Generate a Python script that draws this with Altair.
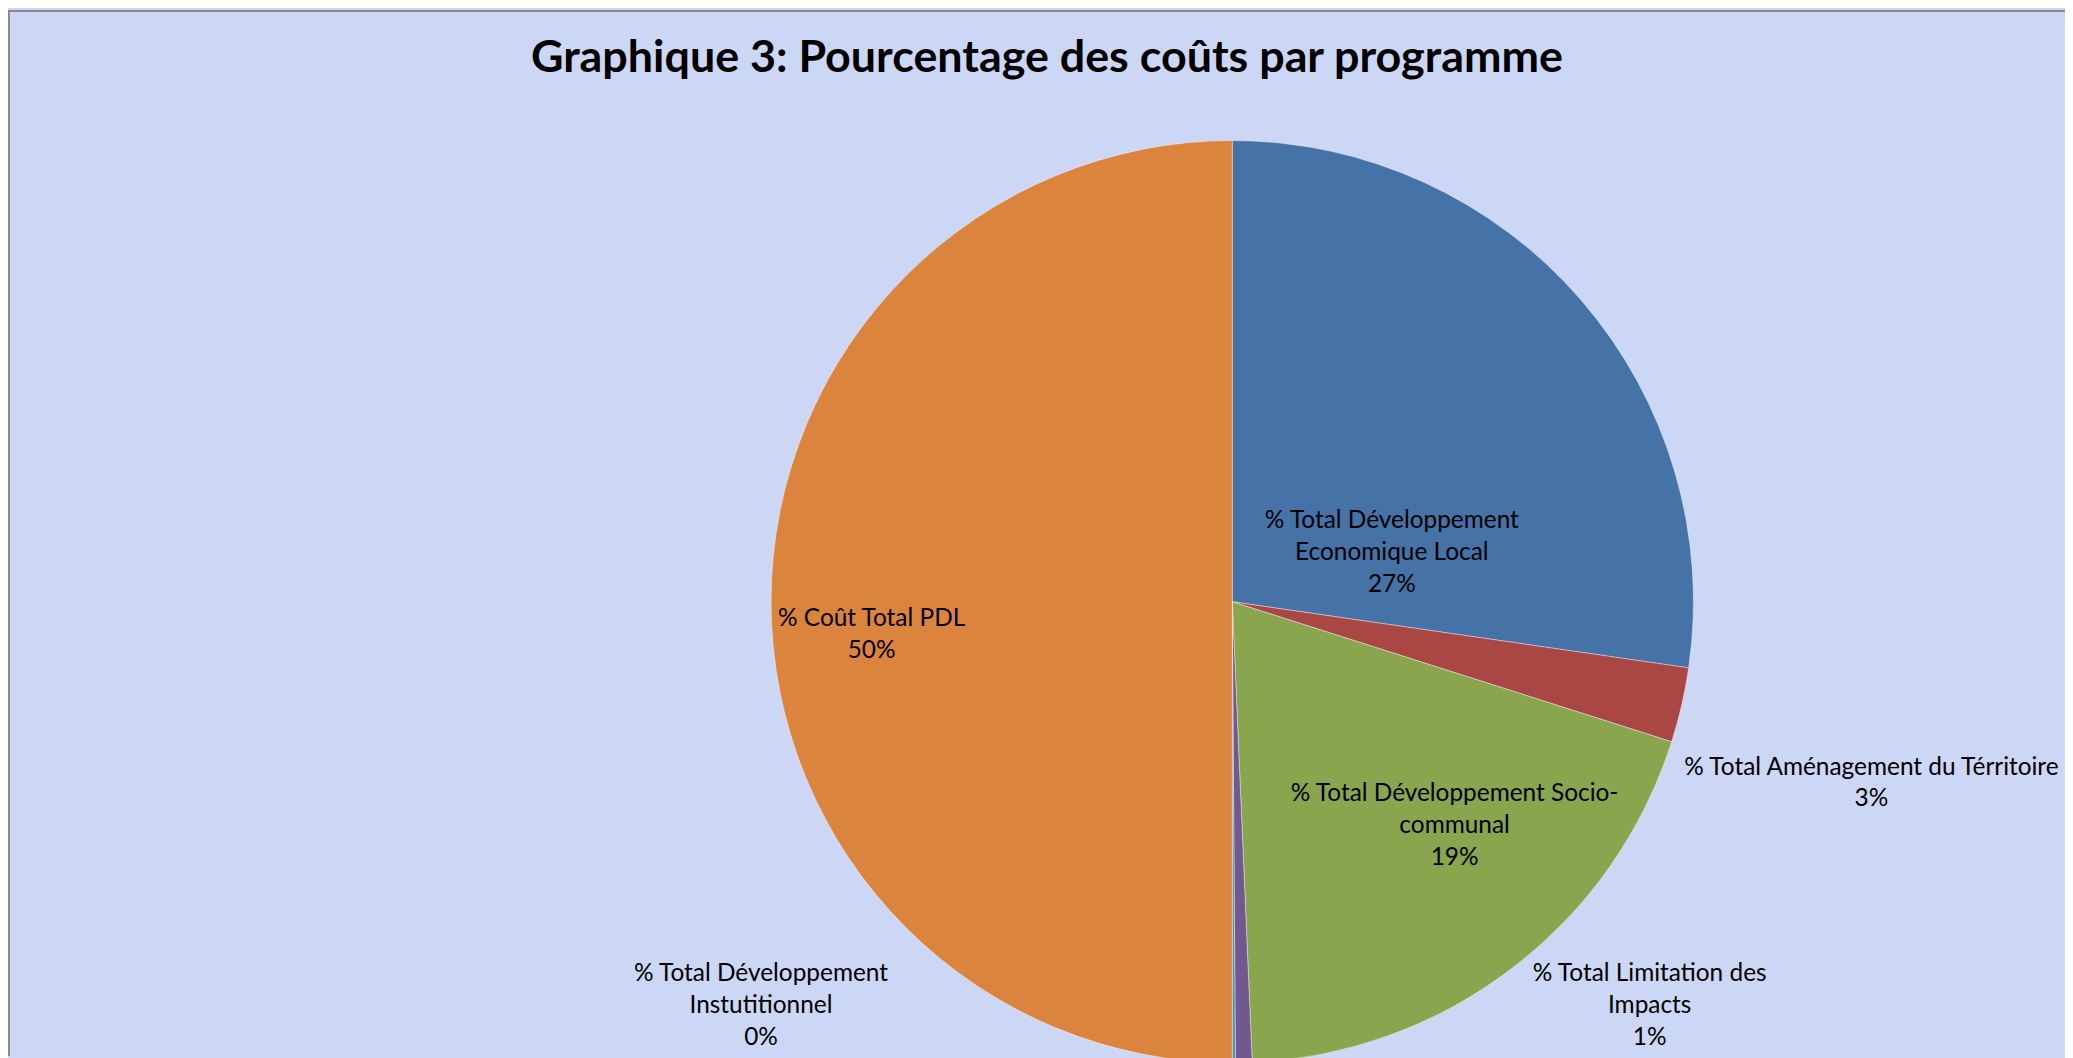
import altair as alt
import pandas as pd

# ---- data ----
categories = [
    "% Total Développement Economique Local",
    "% Total Aménagement du Térritoire",
    "% Total Développement Socio-communal",
    "% Total Limitation des Impacts",
    "% Total Développement Instutitionnel",
    "% Coût Total PDL",
]
label_lines = [
    "% Total Développement|Economique Local",
    "% Total Aménagement du Térritoire",
    "% Total Développement Socio-|communal",
    "% Total Limitation des|Impacts",
    "% Total Développement|Instutitionnel",
    "% Coût Total PDL",
]
values = [27.29, 2.62, 19.40, 0.58, 0.11, 50.00]
colors = ["#4572A7", "#AA4643", "#89A54E", "#71588F", "#4198AF", "#DB843D"]

title_text = "Graphique 3: Pourcentage des coûts par programme"

df = pd.DataFrame({
    "idx": list(range(len(categories))),
    "cat": categories,
    "lines": label_lines,
    "value": values,
})
total = float(sum(values))

# ---- styling / layout ----
FONT = "Lato"
R = 463
W, H = 920, 900
PAD = {"left": 769, "top": 144, "right": 376, "bottom": 6}
theta_scale = alt.Scale(domain=[0, total])
color_scale = alt.Scale(domain=categories, range=colors)

# per-label placement (radius along slice mid-angle, then pixel nudge)
label_style = {
    0: dict(radius=200, dx=9, dy=50),
    1: dict(radius=640, dx=18, dy=23),
    2: dict(radius=300, dx=41, dy=-45),
    3: dict(radius=560, dx=405, dy=-186),
    4: dict(radius=560, dx=-475, dy=-186),
    5: dict(radius=362, dx=0, dy=17),
}

base = alt.Chart(df).transform_stack(
    stack="value", groupby=[], as_=["v0", "v1"],
    sort=[alt.SortField("idx", order="ascending")],
).transform_calculate(
    mid="(datum.v0 + datum.v1) / 2",
    label="datum.lines + '|' + format(datum.value / 100, '.0%')",
)

pie = base.mark_arc(
    outerRadius=R, stroke="#ffffff", strokeWidth=0.8, strokeOpacity=0.5
).encode(
    theta=alt.Theta("v0:Q", scale=theta_scale),
    theta2="v1:Q",
    color=alt.Color("cat:N", scale=color_scale, legend=None),
    tooltip=["cat:N", "value:Q"],
)

layers = [pie]
for i, st in label_style.items():
    layers.append(
        base.transform_filter(f"datum.idx == {i}").mark_text(
            radius=st["radius"], dx=st["dx"], dy=st["dy"],
            font=FONT, fontSize=24.5, lineBreak="|", lineHeight=32,
            color="#000000", align="center", baseline="middle",
        ).encode(
            theta=alt.Theta("mid:Q", scale=theta_scale),
            text="label:N",
        )
    )

# chart-area frame (top and left edges, as in the reference)
frame_src = alt.Chart(pd.DataFrame({"k": [0]}))
top_edge = frame_src.mark_rule(color="#8a8a8a", strokeWidth=2).encode(
    x=alt.value(-PAD["left"]), x2=alt.value(W + PAD["right"]),
    y=alt.value(-PAD["top"] + 1),
)
left_edge = frame_src.mark_rule(color="#8a8a8a", strokeWidth=2).encode(
    x=alt.value(-PAD["left"] + 1),
    y=alt.value(-PAD["top"]), y2=alt.value(H + PAD["bottom"]),
)
layers += [top_edge, left_edge]

chart = alt.layer(*layers).properties(
    width=W,
    height=H,
    autosize=alt.AutoSizeParams(type="none"),
    padding=PAD,
    background="#ccd6f5",
    title=alt.Title(
        title_text, font=FONT, fontSize=45, fontWeight="bold",
        color="#000000", anchor="middle", frame="group", dx=-186, offset=-72,
    ),
).configure_view(strokeWidth=0)

chart.save("out.html", embed_options={"renderer": "svg", "actions": False})
